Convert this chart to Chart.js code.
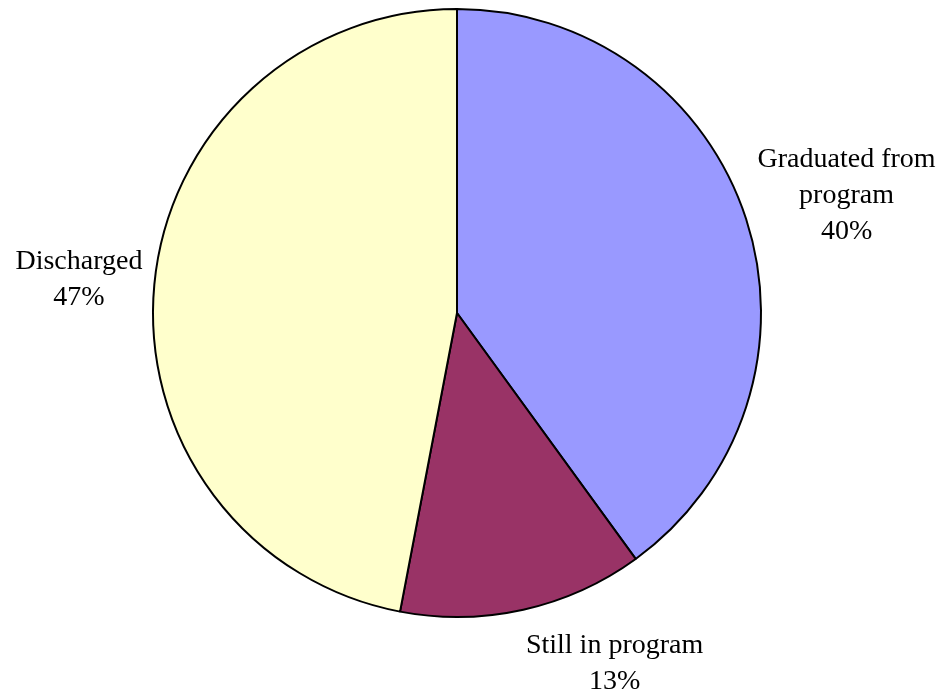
<!DOCTYPE html>
<html>
<head>
<meta charset="utf-8">
<script src="https://cdn.jsdelivr.net/npm/chart.js@4/dist/chart.umd.min.js"></script>
<style>
  html,body{margin:0;padding:0;background:#fff;}
  #wrap{position:relative;width:938px;height:690px;}
</style>
</head>
<body>
<div id="wrap"><canvas id="pie"></canvas></div>
<script>
'use strict';
// outcome shares, percent
const labels = ['Graduated from program', 'Still in program', 'Discharged'];
const labelLines = [['Graduated from', 'program'], ['Still in program'], ['Discharged']];
const shares = [40, 13, 47];
const colors = ['#9999ff', '#993366', '#ffffcc'];

const FONT = '28px "Liberation Serif", "Times New Roman", serif';
const LINE_H = 36;

// outside labels: anchor just beyond the rim on each slice's mid-angle
const outsideLabels = {
  id: 'outsideLabels',
  afterDraw(chart){
    const ctx = chart.ctx;
    const meta = chart.getDatasetMeta(0);
    ctx.save();
    ctx.font = FONT;
    ctx.fillStyle = '#000';
    ctx.textAlign = 'center';
    ctx.textBaseline = 'middle';
    meta.data.forEach((arc, i) => {
      const p = arc.getProps(['x','y','startAngle','endAngle','outerRadius'], true);
      const mid = (p.startAngle + p.endAngle) / 2;
      const r = p.outerRadius + 12;
      const ax = p.x + r * Math.cos(mid), ay = p.y + r * Math.sin(mid);
      const lines = labelLines[i].concat([shares[i] + '%']);
      const w = Math.max(...lines.map(t => ctx.measureText(t).width));
      const h = lines.length * LINE_H;
      const cx = ax + Math.sign(Math.cos(mid)) * w / 2;
      const cy = ay + Math.sin(mid) * h * 0.6;
      lines.forEach((t, k) => ctx.fillText(t, cx, cy - h / 2 + LINE_H * (k + 0.5)));
    });
    ctx.restore();
  }
};

new Chart(document.getElementById('pie'), {
  type: 'pie',
  data: { labels, datasets: [{ data: shares, backgroundColor: colors, borderColor: '#000', borderWidth: 2 }] },
  options: {
    responsive: true, maintainAspectRatio: false, animation: false,
    radius: 304,
    layout: { padding: { left: 0, right: 24, top: 0, bottom: 64 } },
    plugins: { legend: { display: false }, tooltip: { enabled: false } }
  },
  plugins: [outsideLabels]
});
</script>
</body>
</html>
